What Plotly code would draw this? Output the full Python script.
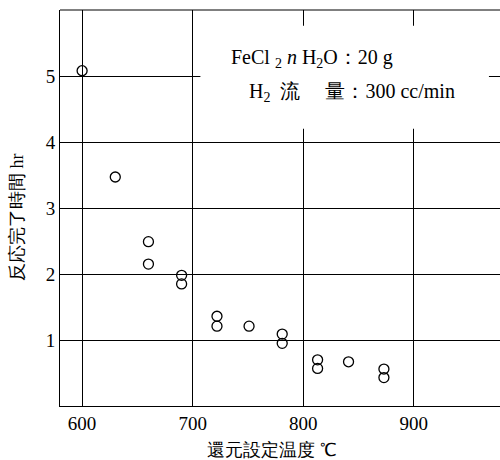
import plotly.graph_objects as go

temps = [600, 630, 660, 660, 690, 690, 722, 722, 751, 781, 781, 813, 813, 841, 873, 873]
times = [5.08, 3.47, 2.49, 2.15, 1.98, 1.85, 1.36, 1.21, 1.21, 1.09, 0.95, 0.70, 0.57, 0.67, 0.56, 0.43]
x_ticks = [600, 700, 800, 900]
y_ticks = [1, 2, 3, 4, 5]

serif = "Liberation Serif"

fig = go.Figure()
fig.add_trace(go.Scatter(
    x=temps, y=times, mode="markers",
    marker=dict(symbol="circle-open", size=10, color="black", line=dict(width=1.3, color="black")),
    showlegend=False,
))

# white box hiding the grid behind the condition text
fig.add_shape(type="rect", xref="x", yref="y", x0=707, x1=968, y0=4.2, y1=5.76,
              fillcolor="white", line=dict(width=0), layer="above")

fig.add_annotation(xref="x", yref="y", x=733, y=5.26, xanchor="left",
                   text="FeCl <sub>2</sub> <i>n</i> H<sub>2</sub>O：20 g", showarrow=False,
                   font=dict(family=serif, size=20, color="black"))
fig.add_annotation(xref="x", yref="y", x=749, y=4.75, xanchor="left",
                   text="H<sub>2</sub>  流　 量：300 cc/min", showarrow=False,
                   font=dict(family=serif, size=20, color="black"))

# axis titles
fig.add_annotation(xref="paper", yref="paper", x=0.482, y=0, yshift=-44, yanchor="middle",
                   text="還元設定温度 ℃", showarrow=False,
                   font=dict(family=serif, size=18, color="black"))
fig.add_annotation(xref="paper", yref="paper", x=0, xshift=-43, y=0.477, xanchor="center",
                   yanchor="middle", textangle=-90,
                   text="反応完了時間 hr", showarrow=False,
                   font=dict(family=serif, size=18, color="black"))

fig.update_layout(
    width=500, height=460, margin=dict(l=60, r=0, t=10, b=54),
    font=dict(family=serif, size=19, color="black"),
    plot_bgcolor="white", paper_bgcolor="white",
    xaxis=dict(range=[580, 978], tickvals=x_ticks, showgrid=True, gridcolor="black", gridwidth=1,
               showline=True, linecolor="black", linewidth=1, zeroline=False, ticks="",
               tickfont=dict(family=serif, size=19, color="black")),
    yaxis=dict(range=[0, 6], tickvals=y_ticks, showgrid=True, gridcolor="black", gridwidth=1,
               showline=True, linecolor="black", linewidth=1, zeroline=False, ticks="",
               tickfont=dict(family=serif, size=19, color="black")),
)

# top border line
fig.add_shape(type="line", xref="paper", yref="paper", x0=0, x1=1, y0=1, y1=1,
              line=dict(color="black", width=1))

fig.write_html("out.html")
